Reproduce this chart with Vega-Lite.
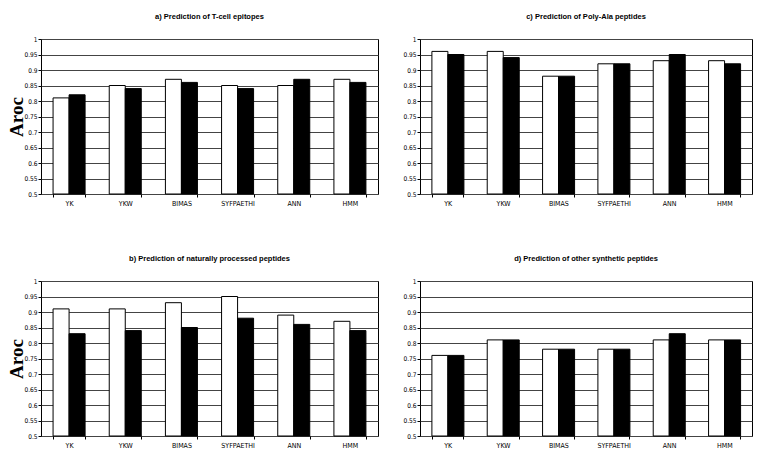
{
  "$schema": "https://vega.github.io/schema/vega-lite/v6.json",
  "background": "white",
  "padding": {"left": 6, "top": 12, "right": 5, "bottom": 2},
  "datasets": {
    "d": [
      {"panel": "a", "method": "YK", "series": "first", "aroc": 0.81},
      {"panel": "a", "method": "YK", "series": "second", "aroc": 0.82},
      {"panel": "a", "method": "YKW", "series": "first", "aroc": 0.85},
      {"panel": "a", "method": "YKW", "series": "second", "aroc": 0.84},
      {"panel": "a", "method": "BIMAS", "series": "first", "aroc": 0.87},
      {"panel": "a", "method": "BIMAS", "series": "second", "aroc": 0.86},
      {"panel": "a", "method": "SYFPAETHI", "series": "first", "aroc": 0.85},
      {"panel": "a", "method": "SYFPAETHI", "series": "second", "aroc": 0.84},
      {"panel": "a", "method": "ANN", "series": "first", "aroc": 0.85},
      {"panel": "a", "method": "ANN", "series": "second", "aroc": 0.87},
      {"panel": "a", "method": "HMM", "series": "first", "aroc": 0.87},
      {"panel": "a", "method": "HMM", "series": "second", "aroc": 0.86},
      {"panel": "c", "method": "YK", "series": "first", "aroc": 0.96},
      {"panel": "c", "method": "YK", "series": "second", "aroc": 0.95},
      {"panel": "c", "method": "YKW", "series": "first", "aroc": 0.96},
      {"panel": "c", "method": "YKW", "series": "second", "aroc": 0.94},
      {"panel": "c", "method": "BIMAS", "series": "first", "aroc": 0.88},
      {"panel": "c", "method": "BIMAS", "series": "second", "aroc": 0.88},
      {"panel": "c", "method": "SYFPAETHI", "series": "first", "aroc": 0.92},
      {"panel": "c", "method": "SYFPAETHI", "series": "second", "aroc": 0.92},
      {"panel": "c", "method": "ANN", "series": "first", "aroc": 0.93},
      {"panel": "c", "method": "ANN", "series": "second", "aroc": 0.95},
      {"panel": "c", "method": "HMM", "series": "first", "aroc": 0.93},
      {"panel": "c", "method": "HMM", "series": "second", "aroc": 0.92},
      {"panel": "b", "method": "YK", "series": "first", "aroc": 0.91},
      {"panel": "b", "method": "YK", "series": "second", "aroc": 0.83},
      {"panel": "b", "method": "YKW", "series": "first", "aroc": 0.91},
      {"panel": "b", "method": "YKW", "series": "second", "aroc": 0.84},
      {"panel": "b", "method": "BIMAS", "series": "first", "aroc": 0.93},
      {"panel": "b", "method": "BIMAS", "series": "second", "aroc": 0.85},
      {"panel": "b", "method": "SYFPAETHI", "series": "first", "aroc": 0.95},
      {"panel": "b", "method": "SYFPAETHI", "series": "second", "aroc": 0.88},
      {"panel": "b", "method": "ANN", "series": "first", "aroc": 0.89},
      {"panel": "b", "method": "ANN", "series": "second", "aroc": 0.86},
      {"panel": "b", "method": "HMM", "series": "first", "aroc": 0.87},
      {"panel": "b", "method": "HMM", "series": "second", "aroc": 0.84},
      {"panel": "d", "method": "YK", "series": "first", "aroc": 0.76},
      {"panel": "d", "method": "YK", "series": "second", "aroc": 0.76},
      {"panel": "d", "method": "YKW", "series": "first", "aroc": 0.81},
      {"panel": "d", "method": "YKW", "series": "second", "aroc": 0.81},
      {"panel": "d", "method": "BIMAS", "series": "first", "aroc": 0.78},
      {"panel": "d", "method": "BIMAS", "series": "second", "aroc": 0.78},
      {"panel": "d", "method": "SYFPAETHI", "series": "first", "aroc": 0.78},
      {"panel": "d", "method": "SYFPAETHI", "series": "second", "aroc": 0.78},
      {"panel": "d", "method": "ANN", "series": "first", "aroc": 0.81},
      {"panel": "d", "method": "ANN", "series": "second", "aroc": 0.83},
      {"panel": "d", "method": "HMM", "series": "first", "aroc": 0.81},
      {"panel": "d", "method": "HMM", "series": "second", "aroc": 0.81}
    ]
  },
  "config": {
    "font": "Liberation Sans",
    "view": {"stroke": "#000000", "strokeWidth": 1},
    "title": {"fontSize": 7.5, "fontWeight": "bold", "font": "Liberation Sans", "color": "#000000", "offset": 16, "anchor": "middle"},
    "axis": {
      "labelFont": "Liberation Sans Narrow, DejaVu Sans Condensed, Liberation Sans",
      "labelFontSize": 6.5,
      "labelColor": "#000000",
      "tickColor": "#000000",
      "tickSize": 3,
      "domain": false
    },
    "axisY": {"gridColor": "#444444", "gridOpacity": 1, "gridWidth": 1, "labelPadding": 1},
    "axisX": {"grid": false, "tickBand": "extent", "labelPadding": 2, "labelAngle": 0, "labelFontSize": 7}
  },
  "spacing": 47,
  "vconcat": [
    {
      "spacing": 23,
      "hconcat": [
        {
          "title": "a) Prediction of T-cell epitopes",
          "width": 337, "height": 155,
          "data": {"name": "d"},
          "transform": [{"filter": "datum.panel == 'a'"}],
          "mark": {"type": "bar", "stroke": "#000000", "strokeWidth": 1},
          "encoding": {
            "x": {"field": "method", "type": "nominal", "sort": ["YK", "YKW", "BIMAS", "SYFPAETHI", "ANN", "HMM"], "scale": {"paddingInner": 0.43, "paddingOuter": 0.215}, "axis": {"title": null}},
            "xOffset": {"field": "series", "type": "nominal", "sort": ["first", "second"]},
            "y": {"field": "aroc", "type": "quantitative", "scale": {"domain": [0.5, 1], "zero": false, "nice": false}, "axis": {"values": [0.5, 0.55, 0.6, 0.65, 0.7, 0.75, 0.8, 0.85, 0.9, 0.95, 1], "format": ".2~f", "title": "Aroc", "titleFont": "Liberation Serif", "titleFontSize": 19, "titleFontWeight": "bold", "titleColor": "#000000", "titleX": -15}},
            "y2": {"datum": 0.5},
            "fill": {"field": "series", "type": "nominal", "scale": {"domain": ["first", "second"], "range": ["#ffffff", "#000000"]}, "legend": null}
          }
        },
        {
          "title": "c) Prediction of Poly-Ala peptides",
          "width": 332, "height": 155,
          "data": {"name": "d"},
          "transform": [{"filter": "datum.panel == 'c'"}],
          "mark": {"type": "bar", "stroke": "#000000", "strokeWidth": 1},
          "encoding": {
            "x": {"field": "method", "type": "nominal", "sort": ["YK", "YKW", "BIMAS", "SYFPAETHI", "ANN", "HMM"], "scale": {"paddingInner": 0.43, "paddingOuter": 0.215}, "axis": {"title": null}},
            "xOffset": {"field": "series", "type": "nominal", "sort": ["first", "second"]},
            "y": {"field": "aroc", "type": "quantitative", "scale": {"domain": [0.5, 1], "zero": false, "nice": false}, "axis": {"values": [0.5, 0.55, 0.6, 0.65, 0.7, 0.75, 0.8, 0.85, 0.9, 0.95, 1], "format": ".2~f", "title": null}},
            "y2": {"datum": 0.5},
            "fill": {"field": "series", "type": "nominal", "scale": {"domain": ["first", "second"], "range": ["#ffffff", "#000000"]}, "legend": null}
          }
        }
      ]
    },
    {
      "spacing": 23,
      "hconcat": [
        {
          "title": "b) Prediction of naturally processed peptides",
          "width": 337, "height": 155,
          "data": {"name": "d"},
          "transform": [{"filter": "datum.panel == 'b'"}],
          "mark": {"type": "bar", "stroke": "#000000", "strokeWidth": 1},
          "encoding": {
            "x": {"field": "method", "type": "nominal", "sort": ["YK", "YKW", "BIMAS", "SYFPAETHI", "ANN", "HMM"], "scale": {"paddingInner": 0.43, "paddingOuter": 0.215}, "axis": {"title": null}},
            "xOffset": {"field": "series", "type": "nominal", "sort": ["first", "second"]},
            "y": {"field": "aroc", "type": "quantitative", "scale": {"domain": [0.5, 1], "zero": false, "nice": false}, "axis": {"values": [0.5, 0.55, 0.6, 0.65, 0.7, 0.75, 0.8, 0.85, 0.9, 0.95, 1], "format": ".2~f", "title": "Aroc", "titleFont": "Liberation Serif", "titleFontSize": 19, "titleFontWeight": "bold", "titleColor": "#000000", "titleX": -15}},
            "y2": {"datum": 0.5},
            "fill": {"field": "series", "type": "nominal", "scale": {"domain": ["first", "second"], "range": ["#ffffff", "#000000"]}, "legend": null}
          }
        },
        {
          "title": "d) Prediction of other synthetic peptides",
          "width": 332, "height": 155,
          "data": {"name": "d"},
          "transform": [{"filter": "datum.panel == 'd'"}],
          "mark": {"type": "bar", "stroke": "#000000", "strokeWidth": 1},
          "encoding": {
            "x": {"field": "method", "type": "nominal", "sort": ["YK", "YKW", "BIMAS", "SYFPAETHI", "ANN", "HMM"], "scale": {"paddingInner": 0.43, "paddingOuter": 0.215}, "axis": {"title": null}},
            "xOffset": {"field": "series", "type": "nominal", "sort": ["first", "second"]},
            "y": {"field": "aroc", "type": "quantitative", "scale": {"domain": [0.5, 1], "zero": false, "nice": false}, "axis": {"values": [0.5, 0.55, 0.6, 0.65, 0.7, 0.75, 0.8, 0.85, 0.9, 0.95, 1], "format": ".2~f", "title": null}},
            "y2": {"datum": 0.5},
            "fill": {"field": "series", "type": "nominal", "scale": {"domain": ["first", "second"], "range": ["#ffffff", "#000000"]}, "legend": null}
          }
        }
      ]
    }
  ]
}
